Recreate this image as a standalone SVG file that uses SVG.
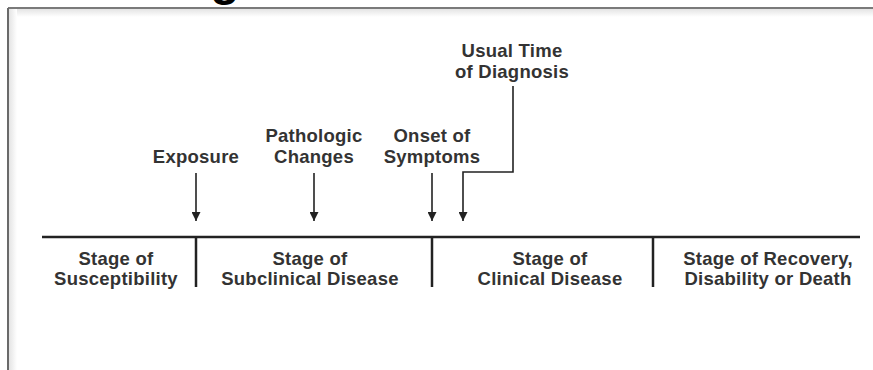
<svg xmlns="http://www.w3.org/2000/svg" width="873" height="370" viewBox="0 0 873 370">
  <defs>
    <style>
      .lbl { font-family: "Liberation Sans", Arial, Helvetica, sans-serif; font-weight: bold; font-size: 18.5px; letter-spacing: 0.25px; fill: #333; text-anchor: middle; }
      .ln { stroke: #222; stroke-width: 2.5; fill: none; }
      .arw { stroke: #222; stroke-width: 1.6; fill: none; }
    </style>
    <marker id="ah" viewBox="0 0 10 10" refX="10" refY="5" markerWidth="10" markerHeight="9" markerUnits="userSpaceOnUse" orient="auto">
      <path d="M0,0 L10,5 L0,10 Z" fill="#222"/>
    </marker>
    <linearGradient id="topShade" x1="0" y1="0" x2="0" y2="1">
      <stop offset="0" stop-color="#e4e4e4"/>
      <stop offset="1" stop-color="#ffffff"/>
    </linearGradient>
    <linearGradient id="leftShade" x1="0" y1="0" x2="1" y2="0">
      <stop offset="0" stop-color="#e4e4e4"/>
      <stop offset="1" stop-color="#ffffff"/>
    </linearGradient>
  </defs>

  <rect x="0" y="0" width="873" height="370" fill="#ffffff"/>

  <g id="frame">
    <rect x="9" y="9" width="864" height="8" fill="url(#topShade)"/>
    <rect x="9" y="9" width="8" height="361" fill="url(#leftShade)"/>
    <line x1="8" y1="8" x2="873" y2="8" stroke="#7a7a7a" stroke-width="2"/>
    <line x1="8" y1="8" x2="8" y2="370" stroke="#6a6a6a" stroke-width="2"/>
  </g>

  <g id="heading-fragment">
    <text x="225" y="-5" font-family="Liberation Sans, Arial, sans-serif" font-weight="bold" font-size="48" fill="#000" text-anchor="middle">g</text>
  </g>

  <g id="connectors">
    <line class="ln" x1="42" y1="237" x2="860" y2="237"/>
    <line class="ln" x1="196" y1="237" x2="196" y2="287"/>
    <line class="ln" x1="432" y1="237" x2="432" y2="287"/>
    <line class="ln" x1="653" y1="237" x2="653" y2="287"/>
    <line class="arw" x1="196" y1="173" x2="196" y2="221" marker-end="url(#ah)"/>
    <line class="arw" x1="314" y1="173" x2="314" y2="221" marker-end="url(#ah)"/>
    <line class="arw" x1="432" y1="173" x2="432" y2="221" marker-end="url(#ah)"/>
    <polyline class="arw" points="513,86 513,172 463,172 463,221" marker-end="url(#ah)"/>
  </g>

  <g id="stage-susceptibility">
    <text class="lbl" x="116" y="265">Stage of</text>
    <text class="lbl" x="116" y="285">Susceptibility</text>
  </g>
  <g id="stage-subclinical">
    <text class="lbl" x="310" y="265">Stage of</text>
    <text class="lbl" x="310" y="285">Subclinical Disease</text>
  </g>
  <g id="stage-clinical">
    <text class="lbl" x="550" y="265">Stage of</text>
    <text class="lbl" x="550" y="285">Clinical Disease</text>
  </g>
  <g id="stage-recovery">
    <text class="lbl" x="768" y="265">Stage of Recovery,</text>
    <text class="lbl" x="768" y="285">Disability or Death</text>
  </g>

  <g id="exposure">
    <text class="lbl" x="196" y="163">Exposure</text>
  </g>
  <g id="pathologic">
    <text class="lbl" x="314" y="142">Pathologic</text>
    <text class="lbl" x="314" y="163">Changes</text>
  </g>
  <g id="onset">
    <text class="lbl" x="432" y="142">Onset of</text>
    <text class="lbl" x="432" y="163">Symptoms</text>
  </g>
  <g id="diagnosis">
    <text class="lbl" x="512" y="57">Usual Time</text>
    <text class="lbl" x="512" y="78">of Diagnosis</text>
  </g>
</svg>
